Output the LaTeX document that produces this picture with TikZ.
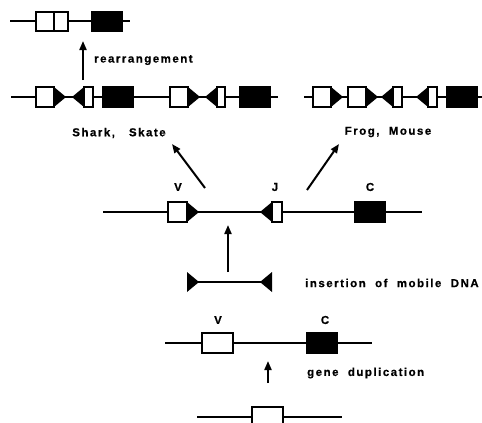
\documentclass[tikz,border=0pt]{standalone}
\usepackage{fontspec}
\newfontfamily\labfont[LetterSpace=13, BoldFeatures={FakeBold=0.6}]{Liberation Sans}
\usetikzlibrary{arrows.meta}
\tikzset{
  dna/.style={line width=1.4pt},
  wbox/.style={draw=black, fill=white, line width=1.3pt},
  bbox/.style={draw=black, fill=black, line width=1.3pt},
  arr/.style={line width=2pt, -{Triangle[length=9pt,width=7pt]}},
  lab/.style={font=\labfont\bfseries\fontsize{11.5}{13}\selectfont, inner sep=0pt},
  pics/rt/.style={code={\fill (0,-10) -- (12,0) -- (0,10) -- cycle;}},
  pics/lt/.style={code={\fill (0,-10) -- (-12,0) -- (0,10) -- cycle;}},
}
\begin{document}
\begin{tikzpicture}[x=1pt,y=-1pt]
\useasboundingbox (0,0) rectangle (482,423);
\clip (0,0) rectangle (482,423);
% ---------- top row: rearranged gene
\draw[dna] (10,21) -- (130,21);
\draw[wbox] (36,12) rectangle (68,31);
\draw[line width=1.3pt] (54,12) -- (54,31);
\draw[bbox] (92,12) rectangle (122,31);
% rearrangement arrow
\coordinate (ra0) at (83,80);
\coordinate (ra1) at (83,41);
\draw[arr] (ra0) -- (ra1);
\node[lab, anchor=west] (trear) at (94,60) {rearrangement};
% ---------- second row, left cluster (Shark, Skate)
\draw[dna] (11,97) -- (278,97);
\draw[wbox] (36,87) rectangle (54,107);
\pic at (54,97) {rt};
\pic at (84,97) {lt};
\draw[wbox] (84,87) rectangle (93,107);
\draw[bbox] (103,87) rectangle (133,107);
\draw[wbox] (170,87) rectangle (188,107);
\pic at (188,97) {rt};
\pic at (217,97) {lt};
\draw[wbox] (217,87) rectangle (225,107);
\draw[bbox] (240,87) rectangle (270,107);
\node[lab] (tshark) at (119,133) {Shark,\ \ \ Skate};
% ---------- second row, right cluster (Frog, Mouse)
\draw[dna] (304,97) -- (482,97);
\draw[wbox] (313,87) rectangle (331,107);
\pic at (331,97) {rt};
\draw[wbox] (348,87) rectangle (366,107);
\pic at (366,97) {rt};
\pic at (393,97) {lt};
\draw[wbox] (393,87) rectangle (402,107);
\pic at (428,97) {lt};
\draw[wbox] (428,87) rectangle (437,107);
\draw[bbox] (447,87) rectangle (477,107);
\node[lab] (tfrog) at (388,132) {Frog,\ \ Mouse};
% ---------- arrows to the two clusters
\coordinate (la0) at (205,188);
\coordinate (la1) at (172,144);
\coordinate (rb0) at (307,190);
\coordinate (rb1) at (339,144);
\draw[arr] (la0) -- (la1);
\draw[arr] (rb0) -- (rb1);
% ---------- middle row: V J C with signals
\draw[dna] (103,212) -- (422,212);
\draw[wbox] (168,202) rectangle (187,222);
\pic at (187,212) {rt};
\pic at (272,212) {lt};
\draw[wbox] (272,202) rectangle (282,222);
\draw[bbox] (355,202) rectangle (385,222);
\node[lab] (lv1) at (178,187) {V};
\node[lab] (lj1) at (275,187) {J};
\node[lab] (lc1) at (370,187) {C};
% ---------- mobile DNA insertion
\coordinate (ia0) at (228,272);
\coordinate (ia1) at (228,225);
\draw[arr] (ia0) -- (ia1);
\draw[dna] (187,282) -- (272,282);
\pic at (187,282) {rt};
\pic at (272,282) {lt};
\node[lab, anchor=west] (tins) at (305,283) {insertion\ \ of\ \ mobile\ \ DNA};
% ---------- duplicated V C row
\draw[dna] (165,343) -- (372,343);
\draw[wbox] (202,333) rectangle (233,353);
\draw[bbox] (307,333) rectangle (337,353);
\node[lab] (lv2) at (218,320) {V};
\node[lab] (lc2) at (325,320) {C};
% gene duplication arrow
\coordinate (ga0) at (268,383);
\coordinate (ga1) at (268,361);
\draw[arr] (ga0) -- (ga1);
\node[lab, anchor=west] (tdup) at (307,373) {gene\ \ duplication};
% ---------- bottom: ancestral gene
\draw[dna] (197,417) -- (342,417);
\draw[wbox] (252,407) rectangle (283,430);
\end{tikzpicture}
\end{document}
